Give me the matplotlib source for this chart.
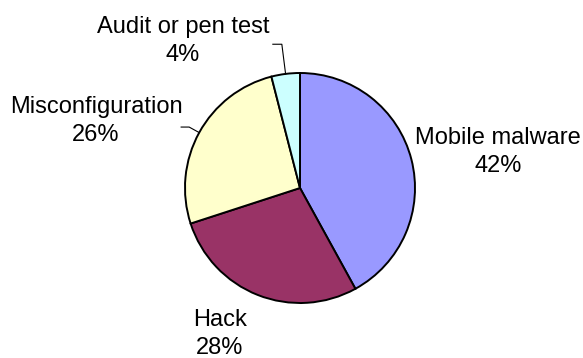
import numpy as np
import matplotlib
matplotlib.use("Agg")
import matplotlib.pyplot as plt

labels = ["Mobile malware", "Hack", "Misconfiguration", "Audit or pen test"]
shares = [42, 28, 26, 4]
colors = ["#9999FF", "#993366", "#FFFFCC", "#CCFFFF"]

W, H = 583, 358
plt.rcParams["font.family"] = ["Liberation Sans", "DejaVu Sans"]

fig = plt.figure(figsize=(W / 100, H / 100), dpi=100)
ax = fig.add_axes([0, 0, 1, 1])

cx, cy, r = 300, H - 188, 115

wedges, _ = ax.pie(shares, colors=colors, startangle=90, counterclock=False,
                   center=(cx, cy), radius=r, frame=True,
                   wedgeprops=dict(edgecolor="black", linewidth=1.4))
ax.set_xlim(0, W)
ax.set_ylim(0, H)
ax.set_aspect("equal")
ax.axis("off")

# label centres (x, y measured from the top)
label_pos = [(498, 152), (220, 334), (96, 121), (183, 41)]
for name, val, (lx, ly) in zip(labels, shares, label_pos):
    ax.text(lx, H - ly, f"{name}\n{val}%", ha="center", va="center",
            fontsize=17, linespacing=1.35)


def leader(w, reach, tail):
    mid = np.deg2rad((w.theta1 + w.theta2) / 2)
    tip = (cx + r * np.cos(mid), cy + r * np.sin(mid))
    elbow = (cx + reach * r * np.cos(mid), cy + reach * r * np.sin(mid))
    ax.plot([elbow[0] - tail, elbow[0], tip[0]], [elbow[1], elbow[1], tip[1]],
            color="black", linewidth=0.8)


leader(wedges[3], 1.26, 9)
leader(wedges[2], 1.1, 8)

fig.savefig("out.png", dpi=100)
